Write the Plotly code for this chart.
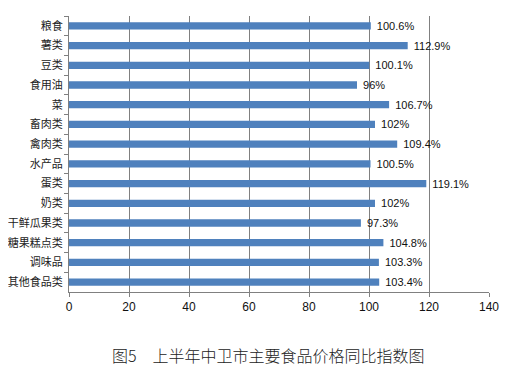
import plotly.graph_objects as go

categories = ["粮食", "薯类", "豆类", "食用油", "菜", "畜肉类", "禽肉类", "水产品",
              "蛋类", "奶类", "干鲜瓜果类", "糖果糕点类", "调味品", "其他食品类"]
values = [100.6, 112.9, 100.1, 96, 106.7, 102, 109.4, 100.5,
          119.1, 102, 97.3, 104.8, 103.3, 103.4]
x_ticks = [0, 20, 40, 60, 80, 100, 120, 140]
title = "图5　上半年中卫市主要食品价格同比指数图"

font_cjk = "Noto Sans CJK SC, Noto Sans, sans-serif"
font_lat = "Liberation Sans, Arial, sans-serif"

fig = go.Figure(go.Bar(
    y=categories, x=values, orientation="h",
    marker=dict(color="#4F81BD", line=dict(width=0)),
    width=0.37,
    texttemplate=" %{x}%", textposition="outside", constraintext="none",
    textfont=dict(family=font_lat, size=11, color="#111"),
    cliponaxis=False,
))

# page body has an 8px default margin, so the figure is sized to fit the 510x376 window
fig.update_layout(
    width=502, height=368,
    margin=dict(l=61, r=21, t=8, b=84, autoexpand=False),
    paper_bgcolor="white", plot_bgcolor="white",
    showlegend=False,
    annotations=[dict(text=title, x=0.474, xref="paper", y=0, yref="paper",
                      yshift=-63, yanchor="middle", xanchor="center", showarrow=False,
                      font=dict(family=font_cjk, size=16, color="#222", weight=300))],
)

fig.update_xaxes(range=[0, 140], tickvals=x_ticks, showgrid=True, gridcolor="#808080",
                 gridwidth=1, showline=True, linecolor="#808080", ticks="outside",
                 ticklen=4, tickcolor="#808080", automargin=False,
                 tickfont=dict(family=font_lat, size=12, color="#111"),
                 zeroline=False, fixedrange=True)
fig.update_yaxes(autorange="reversed", showline=True, linecolor="#808080",
                 ticks="outside", ticklen=4, tickcolor="#808080", tickson="boundaries",
                 showgrid=False, automargin=False, ticklabelstandoff=3,
                 tickfont=dict(family=font_cjk, size=11, color="#222"),
                 fixedrange=True)

fig.write_html("out.html")
